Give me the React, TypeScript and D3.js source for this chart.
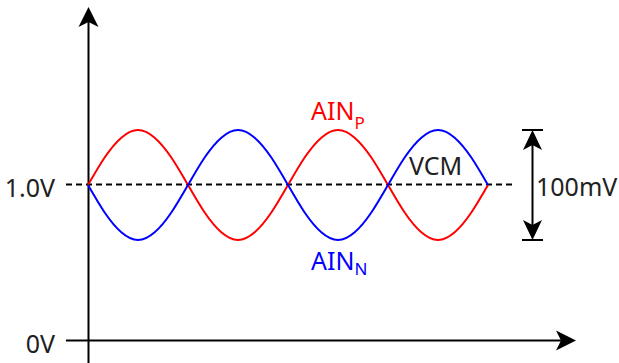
import React from "react";
import * as d3 from "d3";

// phase (degrees) samples across two periods
const phaseDeg = [0, 30, 60, 90, 120, 150, 180, 210, 240, 270, 300, 330, 360, 390, 420, 450, 480, 510, 540, 570, 600, 630, 660, 690, 720];
// differential offsets from VCM in mV
const ainP = [0, 25, 43, 50, 43, 25, 0, -25, -43, -50, -43, -25, 0, 25, 43, 50, 43, 25, 0, -25, -43, -50, -43, -25, 0];
const ainN = [0, -25, -43, -50, -43, -25, 0, 25, 43, 50, 43, 25, 0, -25, -43, -50, -43, -25, 0, 25, 43, 50, 43, 25, 0];
const voltTicks = [0, 1.0];
const voltLabels = ["0V", "1.0V"];
const spanMv = [-50, 50];

const W = 619, H = 363;
const FONT = "'Noto Sans', sans-serif";

export default function App() {
  const x = d3.scaleLinear().domain([0, 720]).range([88, 488]);
  const yV = d3.scaleLinear().domain([0, 1]).range([340.5, 184.5]);
  const yMv = d3.scaleLinear().domain([-50, 50]).range([240, 130]);

  const line = (vals: number[]) =>
    d3.line<number>()
      .x((_, i) => x(phaseDeg[i]))
      .y((v) => yMv(v))
      .curve(d3.curveNatural)(vals) as string;

  const axX = 88.5;
  const axY = yV(0);
  const vcmY = yV(1);

  const arrowUp = (tx: number, ty: number, w: number, l: number, notch: number) =>
    `M${tx},${ty} L${tx + w / 2},${ty + l} L${tx},${ty + l - notch} L${tx - w / 2},${ty + l} Z`;
  const arrowDown = (tx: number, ty: number, w: number, l: number, notch: number) =>
    `M${tx},${ty} L${tx + w / 2},${ty - l} L${tx},${ty - l + notch} L${tx - w / 2},${ty - l} Z`;
  const arrowRight = (tx: number, ty: number, w: number, l: number, notch: number) =>
    `M${tx},${ty} L${tx - l},${ty - w / 2} L${tx - l + notch},${ty} L${tx - l},${ty + w / 2} Z`;

  const bx = 532.5;
  const bTop = yMv(spanMv[1]);
  const bBot = yMv(spanMv[0]);

  return (
    <svg width={W} height={H} style={{ position: "absolute", left: 0, top: 0 }} fontFamily={FONT}>
      <rect width={W} height={H} fill="#fff" />
      {/* y axis */}
      <line x1={axX} x2={axX} y1={363} y2={20} stroke="#000" strokeWidth={2} />
      <path d={arrowUp(axX, 7, 20, 20, 5)} fill="#000" />
      {/* x axis */}
      <line x1={66} x2={565} y1={axY} y2={axY} stroke="#000" strokeWidth={2} />
      <path d={arrowRight(576, axY, 20, 20, 5)} fill="#000" />
      {/* VCM dashed */}
      <line x1={66} x2={512} y1={vcmY} y2={vcmY} stroke="#000" strokeWidth={2} strokeDasharray="6,4" />
      {/* waves */}
      <path d={line(ainP)} fill="none" stroke="#ff0000" strokeWidth={2} />
      <path d={line(ainN)} fill="none" stroke="#0000ff" strokeWidth={2} />
      {/* tick labels */}
      {voltTicks.map((t, i) => (
        <text key={i} x={55} y={yV(t) + 12} textAnchor="end" fontSize={25} fill="#222">{voltLabels[i]}</text>
      ))}
      {/* labels */}
      <text x={311} y={120} fontSize={25} fill="#ff0000">AIN<tspan fontSize={17} dy={9}>P</tspan></text>
      <text x={311} y={270} fontSize={25} fill="#0000ff">AIN<tspan fontSize={17} dy={5}>N</tspan></text>
      <text x={409} y={175} fontSize={25} fill="#222">VCM</text>
      {/* dimension arrow */}
      <line x1={522} x2={543} y1={bTop} y2={bTop} stroke="#000" strokeWidth={2} />
      <line x1={522} x2={543} y1={bBot} y2={bBot} stroke="#000" strokeWidth={2} />
      <line x1={bx} x2={bx} y1={bTop + 10} y2={bBot - 10} stroke="#000" strokeWidth={2} />
      <path d={arrowUp(bx, bTop, 19, 20, 5)} fill="#000" />
      <path d={arrowDown(bx, bBot, 19, 20, 5)} fill="#000" />
      <text x={536} y={196} fontSize={25} fill="#222">100mV</text>
    </svg>
  );
}
